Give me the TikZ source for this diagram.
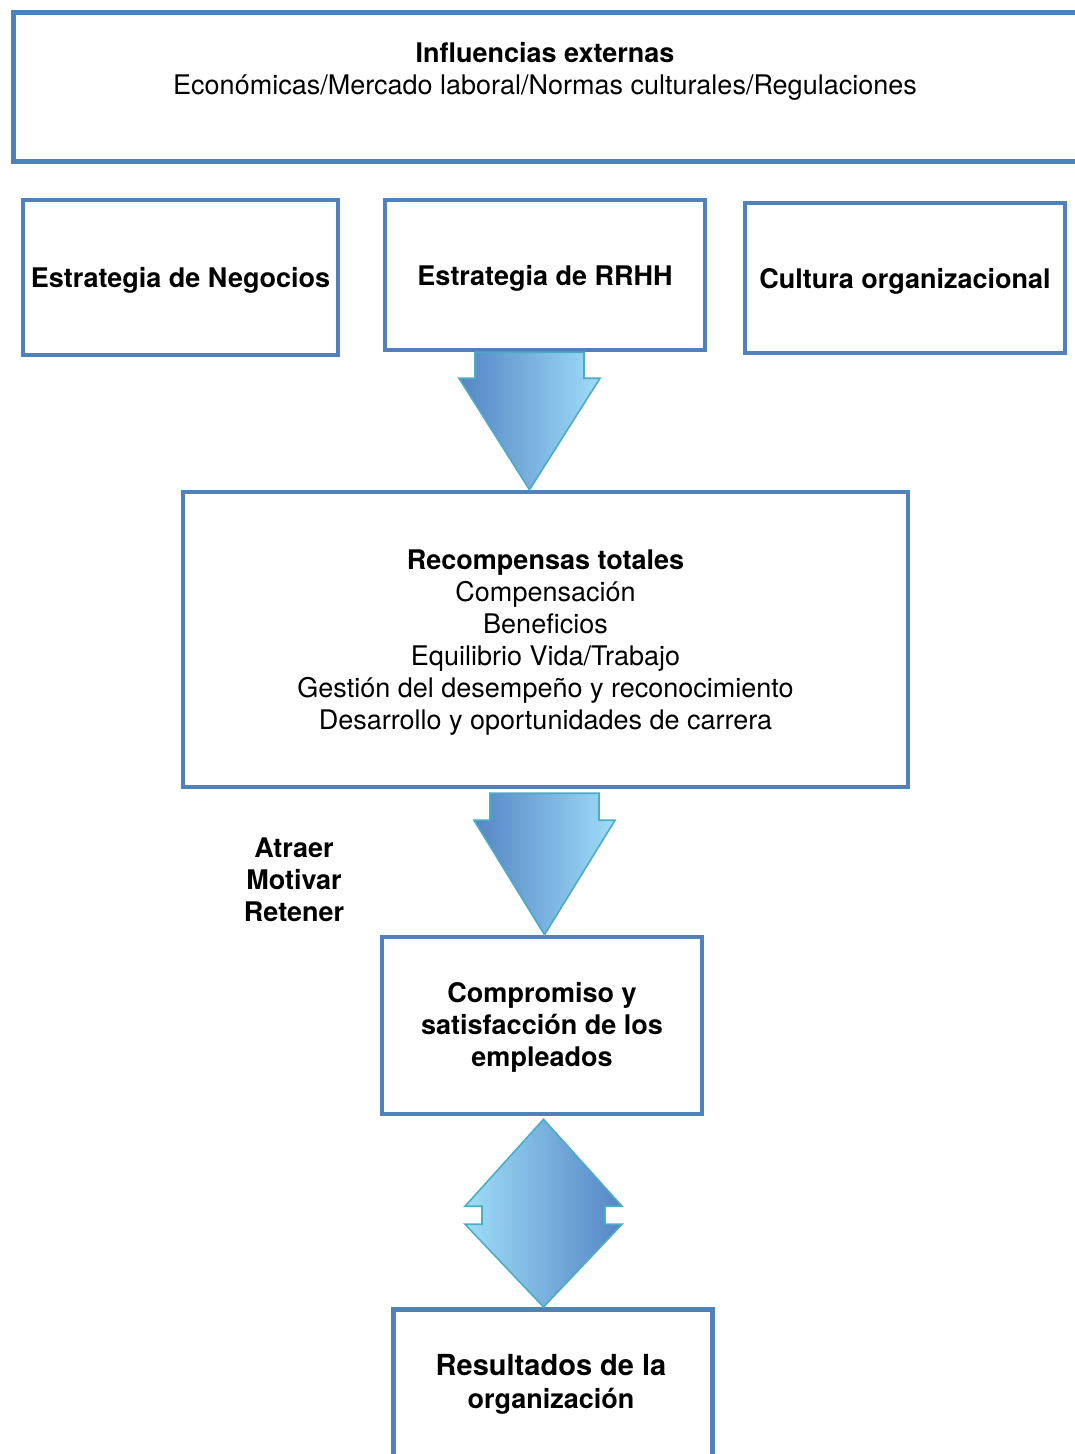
\documentclass[tikz,border=0pt]{standalone}
\usepackage{fontspec}
\setmainfont{TeX Gyre Heros}
\usetikzlibrary{calc}
\definecolor{boxblue}{HTML}{4F81BD}
\definecolor{arrowedge}{HTML}{4BACC6}
\definecolor{darkfill}{HTML}{5585C4}
\definecolor{lightfill}{HTML}{9EDDF8}
\begin{document}
\begin{tikzpicture}[x=1pt,y=-1pt,
  box/.style={draw=boxblue, line width=4.5pt, fill=white, inner sep=0pt},
  txt/.style={align=center, inner sep=0pt, font=\fontsize{27}{32}\selectfont},
  blockedge/.style={draw=arrowedge, line width=1.6pt, line join=miter}]
\useasboundingbox (0,0) rectangle (1074,1454);
\fill[white] (0,0) rectangle (1074,1454);

% external influences
\node[box, anchor=north west, minimum width=1080, minimum height=149] (ext) at (11,10) {};
\node[txt, anchor=north] (extt) at (545,42) {\textbf{Influencias externas}\\Económicas/Mercado laboral/Normas culturales/Regulaciones};

% strategy row
\node[box, minimum width=315, minimum height=155] (neg) at (180.5,277.5) {};
\node[txt] (negt) at ($(neg.center)+(0,3)$) {\textbf{Estrategia de Negocios}};
\node[box, minimum width=320, minimum height=150] (rrhh) at (545,275) {};
\node[txt] (rrhht) at ($(rrhh.center)+(0,3)$) {\textbf{Estrategia de RRHH}};
\node[box, minimum width=320, minimum height=150] (cult) at (905,278) {};
\node[txt] (cultt) at ($(cult.center)+(0,3)$) {\textbf{Cultura organizacional}};

% total rewards
\node[box, minimum width=725, minimum height=295] (rec) at (545.5,639.5) {};
\node[txt] (rect) at ($(rec.center)+(0,3)$)
  {\textbf{Recompensas totales}\\Compensación\\Beneficios\\Equilibrio Vida/Trabajo\\Gestión del desempeño y reconocimiento\\Desarrollo y oportunidades de carrera};

\node[txt, font=\bfseries\fontsize{27}{32}\selectfont] (amr) at (294,880) {Atraer\\Motivar\\Retener};

% engagement
\node[box, minimum width=320, minimum height=177] (comp) at (542,1025.5) {};
\node[txt, font=\bfseries\fontsize{27}{32}\selectfont] (compt) at ($(comp.center)+(0,2)$)
  {Compromiso y\\satisfacción de los\\empleados};

% results
\node[box, anchor=north west, minimum width=319, minimum height=200] (res) at (391,1307) {};
\node[txt, anchor=north] (rest) at (551,1354) {{\bfseries\fontsize{29}{34}\selectfont Resultados de la}\\[1pt]{\bfseries\fontsize{27}{34}\selectfont organización}};

% block arrow: RRHH -> total rewards
\coordinate (a1) at ($(rrhh.south)+(-15.5,0)$);
\coordinate (a1tip) at (a1 |- rec.north);
\path[blockedge, left color=darkfill, right color=lightfill]
  ($(a1)+(-54.5,0)$) -- ($(a1)+(-54.5,26)$) -- ($(a1)+(-70.5,26)$) -- (a1tip)
  -- ($(a1)+(70.5,26)$) -- ($(a1)+(54.5,26)$) -- ($(a1)+(54.5,0)$) -- cycle;

% block arrow: total rewards -> engagement
\coordinate (a2) at ($(rec.south)+(-1,4)$);
\coordinate (a2tip) at (a2 |- comp.north);
\path[blockedge, left color=darkfill, right color=lightfill]
  ($(a2)+(-54.5,0)$) -- ($(a2)+(-54.5,27)$) -- ($(a2)+(-70.5,27)$) -- (a2tip)
  -- ($(a2)+(70.5,27)$) -- ($(a2)+(54.5,27)$) -- ($(a2)+(54.5,0)$) -- cycle;

% two-way arrow: engagement <-> results
\coordinate (d1) at ($(comp.south)+(1.5,3)$);
\coordinate (d2) at (d1 |- res.north);
\path[blockedge, left color=lightfill, right color=darkfill]
  (d1) -- ($(d1)+(78.5,87)$) -- ($(d1)+(61.5,87)$) -- ($(d1)+(61.5,105)$) -- ($(d1)+(78.5,105)$)
  -- (d2) -- ($(d1)+(-78.5,105)$) -- ($(d1)+(-61.5,105)$) -- ($(d1)+(-61.5,87)$) -- ($(d1)+(-78.5,87)$) -- cycle;
\end{tikzpicture}
\end{document}
